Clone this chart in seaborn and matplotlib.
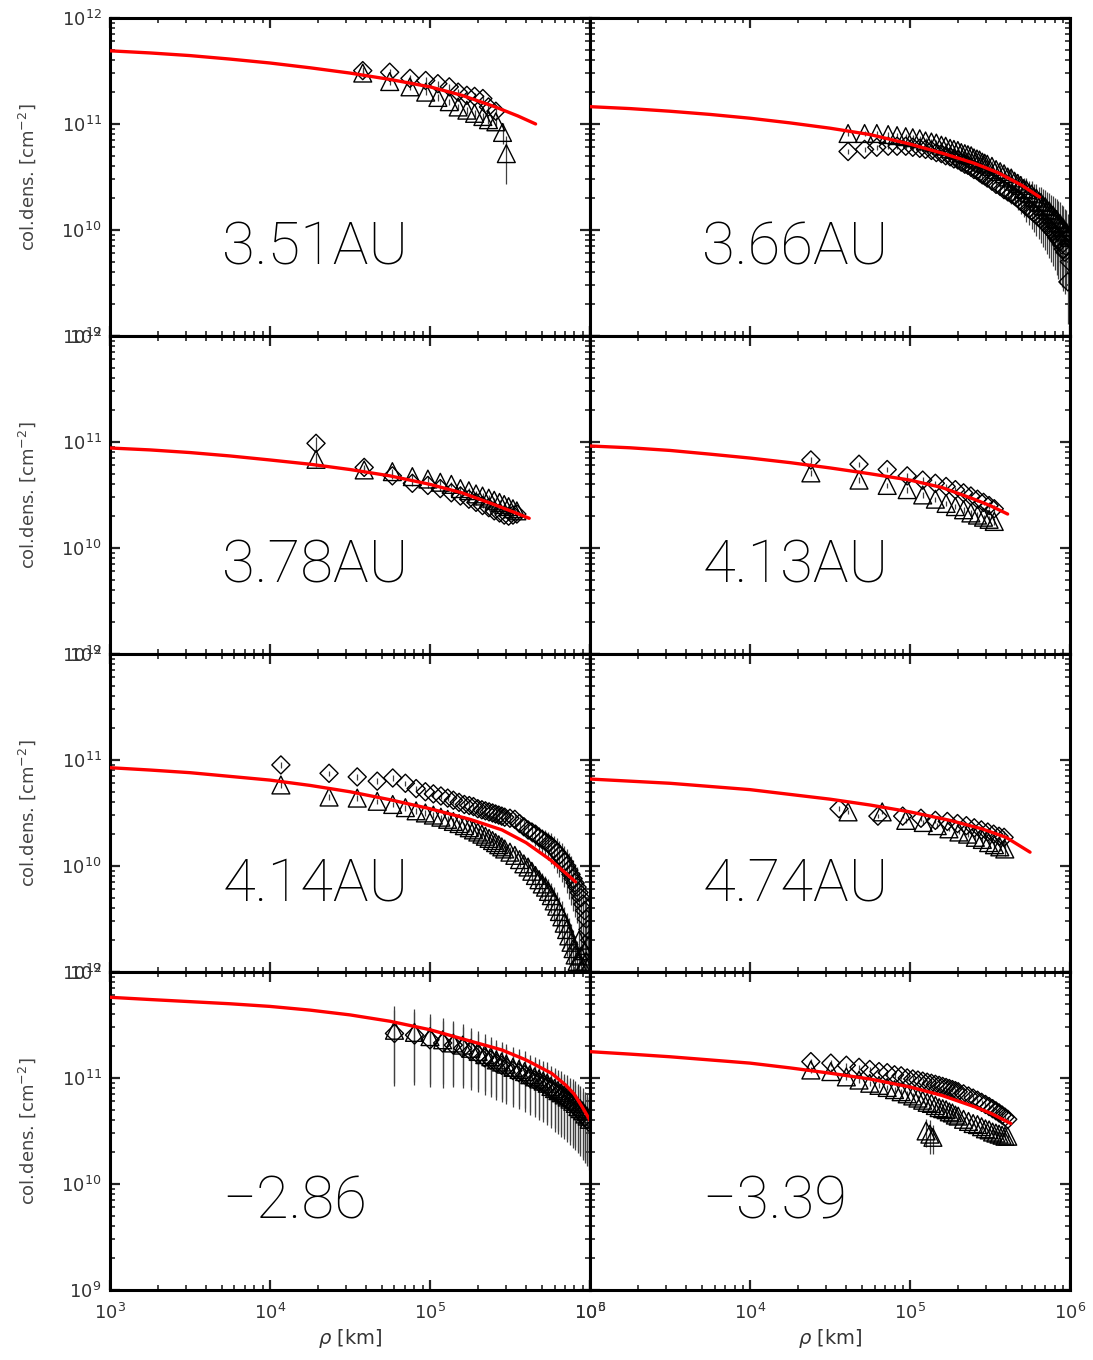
import numpy as np
import pandas as pd
import matplotlib
matplotlib.use("Agg")
import matplotlib.pyplot as plt
import seaborn as sns
from matplotlib.ticker import LogLocator, NullFormatter

sns.set_theme(style="ticks")
plt.rcParams["font.family"] = ["DejaVu Sans"]

# ---------------- data (rho in 1e3 km, log10 column density, relative errors) -------------
labels = ["3.51AU", "3.66AU", "3.78AU", "4.13AU", "4.14AU", "4.74AU", "\u22122.86", "\u22123.39"]

# panel 1 : 3.51AU
p1_rho_dia = [38, 56, 75, 94, 112, 132, 150, 170, 190, 214, 232, 258]
p1_logN_dia = [11.503, 11.488, 11.43, 11.41, 11.38, 11.35, 11.30, 11.27, 11.26, 11.24, 11.16, 11.12]
p1_err_dia = [0.08, 0.07, 0.07, 0.07, 0.07, 0.07, 0.07, 0.07, 0.08, 0.08, 0.09, 0.10]
p1_rho_tri = [38, 56, 75, 94, 112, 132, 150, 170, 190, 214, 232, 258, 284, 300]
p1_logN_tri = [11.48, 11.40, 11.35, 11.30, 11.25, 11.21, 11.16, 11.13, 11.10, 11.07, 11.04, 11.02, 10.92, 10.72]
p1_err_tri = [0.08, 0.07, 0.07, 0.07, 0.07, 0.07, 0.07, 0.07, 0.08, 0.08, 0.09, 0.12, 0.22, 0.48]
m1_logrho = [3.0, 3.25, 3.5, 3.75, 4.0, 4.25, 4.5, 4.75, 5.0, 5.2, 5.4, 5.55, 5.66]
m1_logN = [11.69, 11.67, 11.645, 11.612, 11.575, 11.53, 11.48, 11.42, 11.35, 11.27, 11.165, 11.075, 11.0]

# panel 2 : 3.66AU
p2_rho = [41, 52, 62, 73, 83, 94, 104, 115, 125, 136, 146, 157, 167, 178, 188, 199, 209, 220,
          230, 241, 251, 262, 272, 283, 293, 304, 325, 345, 366, 387, 408, 429, 450, 470, 491,
          512, 533, 554, 575, 595, 616, 637, 658, 679, 700, 720, 741, 762, 783, 804, 825, 845,
          866, 887, 908, 929, 950, 970, 991]
p2_logN_tri = [10.91, 10.91, 10.91, 10.90, 10.89, 10.88, 10.87, 10.86, 10.84, 10.83,
               10.82, 10.80, 10.79, 10.77, 10.76, 10.75, 10.73, 10.72, 10.71, 10.70,
               10.68, 10.67, 10.66, 10.64, 10.63, 10.62, 10.60, 10.57, 10.55, 10.53,
               10.50, 10.49, 10.46, 10.44, 10.42, 10.39, 10.38, 10.35, 10.34, 10.31,
               10.30, 10.27, 10.26, 10.23, 10.22, 10.19, 10.18, 10.15, 10.14, 10.11,
               10.10, 10.07, 10.06, 10.03, 10.02, 9.99, 9.98, 9.95, 9.93]
p2_logN_dia = [10.74, 10.76, 10.78, 10.79, 10.79, 10.79, 10.78, 10.77, 10.76, 10.75,
               10.73, 10.72, 10.70, 10.69, 10.67, 10.66, 10.64, 10.62, 10.61, 10.59,
               10.57, 10.56, 10.54, 10.52, 10.51, 10.49, 10.46, 10.43, 10.41, 10.38,
               10.36, 10.34, 10.32, 10.30, 10.27, 10.25, 10.22, 10.20, 10.18, 10.16,
               10.14, 10.12, 10.10, 10.08, 10.06, 10.04, 10.02, 10.00, 9.98, 9.96,
               9.93, 9.91, 9.89, 9.86, 9.82, 9.79, 9.84, 9.51, 9.70]
p2_err = [0.05, 0.05, 0.05, 0.05, 0.05, 0.05, 0.05, 0.06, 0.06, 0.06,
          0.06, 0.06, 0.07, 0.07, 0.07, 0.08, 0.08, 0.08, 0.09, 0.09,
          0.10, 0.10, 0.11, 0.11, 0.12, 0.12, 0.13, 0.14, 0.15, 0.16,
          0.18, 0.19, 0.20, 0.22, 0.24, 0.26, 0.28, 0.30, 0.32, 0.34,
          0.36, 0.38, 0.40, 0.42, 0.44, 0.46, 0.48, 0.50, 0.52, 0.54,
          0.56, 0.58, 0.60, 0.60, 0.60, 0.60, 0.60, 0.60, 0.60]
m2_logrho = [3.0, 3.25, 3.5, 3.75, 4.0, 4.25, 4.5, 4.75, 5.0, 5.2, 5.4, 5.55, 5.7, 5.81]
m2_logN = [11.163, 11.145, 11.12, 11.09, 11.054, 11.01, 10.96, 10.90, 10.81, 10.725, 10.63, 10.54, 10.42, 10.31]

# panel 3 : 3.78AU
p3_rho = [19.4, 38.8, 58.2, 77.6, 97, 116, 136, 155, 175, 194, 213, 233, 252, 272, 291, 310, 330, 349]
p3_logN_tri = [10.836, 10.736, 10.72, 10.673, 10.65, 10.62, 10.60, 10.56, 10.54, 10.51, 10.49,
               10.47, 10.45, 10.43, 10.41, 10.39, 10.37, 10.35]
p3_logN_dia = [10.987, 10.76, 10.68, 10.61, 10.59, 10.56, 10.52, 10.49, 10.46, 10.43, 10.40,
               10.38, 10.35, 10.33, 10.31, 10.30, 10.31, 10.32]
p3_err = [0.15, 0.06, 0.06, 0.06, 0.06, 0.06, 0.06, 0.06, 0.06, 0.06, 0.06, 0.06, 0.06, 0.06,
          0.06, 0.06, 0.06, 0.06]
m3_logrho = [3.0, 3.25, 3.5, 3.75, 4.0, 4.25, 4.5, 4.75, 5.0, 5.2, 5.4, 5.52, 5.62]
m3_logN = [10.943, 10.925, 10.90, 10.868, 10.83, 10.79, 10.74, 10.68, 10.60, 10.52, 10.41, 10.34, 10.28]

# panel 4 : 4.13AU
p4_rho = [24, 48, 72, 96, 120, 144, 168, 192, 216, 240, 264, 288, 312, 336]
p4_logN_dia = [10.83, 10.79, 10.74, 10.68, 10.64, 10.61, 10.58, 10.55, 10.52, 10.49, 10.46, 10.43, 10.40, 10.37]
p4_logN_tri = [10.708, 10.64, 10.59, 10.55, 10.50, 10.46, 10.42, 10.39, 10.36, 10.33, 10.31, 10.29, 10.27, 10.25]
p4_err = [0.07, 0.06, 0.06, 0.06, 0.06, 0.06, 0.06, 0.06, 0.06, 0.06, 0.06, 0.06, 0.07, 0.08]
m4_logrho = [3.0, 3.25, 3.5, 3.75, 4.0, 4.25, 4.5, 4.75, 5.0, 5.2, 5.4, 5.5, 5.61]
m4_logN = [10.962, 10.945, 10.92, 10.885, 10.848, 10.805, 10.755, 10.70, 10.64, 10.57, 10.46, 10.40, 10.32]

# panel 5 : 4.14AU
p5_rho = [11.7, 23.4, 35.1, 46.8, 58.5, 70.2, 81.9, 93.6, 105, 117,
          129, 140, 152, 164, 176, 187, 199, 211, 222, 234,
          246, 257, 269, 281, 293,
          316, 339, 363, 386, 410, 433, 456, 480, 503, 527,
          550, 573, 597, 620, 644, 667, 690, 714, 737, 761,
          784, 807, 831, 854, 878, 901, 924, 948, 971, 995]
p5_logN_dia = [10.953, 10.874, 10.84, 10.80, 10.83, 10.78, 10.73, 10.70, 10.68, 10.66,
               10.64, 10.62, 10.60, 10.58, 10.57, 10.56, 10.54, 10.53, 10.52, 10.51,
               10.50, 10.49, 10.48, 10.47, 10.46,
               10.45, 10.44, 10.40, 10.37, 10.34, 10.32, 10.30, 10.27, 10.25, 10.23,
               10.21, 10.19, 10.16, 10.13, 10.10, 10.07, 10.04, 10.00, 9.96, 9.92,
               9.88, 9.84, 9.80, 9.75, 9.70, 9.64, 9.58, 9.50, 9.40, 9.30]
p5_logN_tri = [10.764, 10.65, 10.64, 10.61, 10.58, 10.55, 10.52, 10.50, 10.48, 10.46,
               10.44, 10.42, 10.40, 10.38, 10.36, 10.34, 10.32, 10.30, 10.28, 10.26,
               10.24, 10.22, 10.20, 10.18, 10.16,
               10.13, 10.10, 10.06, 10.02, 9.99, 9.95, 9.91, 9.87, 9.83, 9.80,
               9.76, 9.72, 9.67, 9.62, 9.57, 9.52, 9.46, 9.40, 9.34, 9.28,
               9.22, 9.16, 9.10, 9.30, 9.15, 9.05, 9.20, 9.10, 9.25, 9.08]
p5_err = [0.06, 0.06, 0.06, 0.06, 0.06, 0.06, 0.06, 0.06, 0.06, 0.06,
          0.07, 0.07, 0.07, 0.07, 0.08, 0.08, 0.08, 0.09, 0.09, 0.10,
          0.10, 0.11, 0.11, 0.12, 0.12,
          0.13, 0.14, 0.15, 0.16, 0.18, 0.20, 0.22, 0.24, 0.26, 0.28,
          0.30, 0.32, 0.34, 0.36, 0.38, 0.40, 0.42, 0.44, 0.46, 0.48,
          0.50, 0.52, 0.54, 0.56, 0.58, 0.60, 0.60, 0.60, 0.60, 0.60]
m5_logrho = [3.0, 3.25, 3.5, 3.75, 4.0, 4.25, 4.5, 4.75, 5.0, 5.25, 5.45, 5.6, 5.75, 5.85, 5.91]
m5_logN = [10.927, 10.905, 10.88, 10.845, 10.81, 10.76, 10.70, 10.625, 10.54, 10.44, 10.34, 10.22, 10.06, 9.93, 9.85]

# panel 6 : 4.74AU
p6_rho_dia = [36, 63, 90, 117, 144, 171, 198, 225, 252, 279, 306, 333, 360, 387]
p6_logN_dia = [10.54, 10.47, 10.47, 10.45, 10.43, 10.42, 10.40, 10.38, 10.36, 10.34, 10.32, 10.30, 10.28, 10.27]
p6_rho_tri = [41, 67, 94, 121, 148, 175, 202, 229, 256, 283, 310, 337, 364, 391]
p6_logN_tri = [10.51, 10.51, 10.43, 10.41, 10.38, 10.35, 10.32, 10.30, 10.27, 10.25, 10.22, 10.20, 10.18, 10.16]
p6_err = [0.05, 0.05, 0.05, 0.05, 0.05, 0.05, 0.05, 0.05, 0.05, 0.06, 0.06, 0.07, 0.08, 0.15]
m6_logrho = [3.0, 3.25, 3.5, 3.75, 4.0, 4.25, 4.5, 4.75, 5.0, 5.25, 5.45, 5.6, 5.75]
m6_logN = [10.82, 10.80, 10.78, 10.75, 10.72, 10.675, 10.63, 10.575, 10.51, 10.43, 10.35, 10.27, 10.13]

# panel 7 : -2.86
p7_rho = [60, 80, 100, 120, 140, 160, 180, 200, 220, 240, 260, 280, 300, 330, 360, 390, 420, 450,
          480, 510, 540, 570, 600, 630, 660, 690, 720, 750, 780, 810, 840, 870, 900, 930, 960, 990]
p7_logN_dia = [11.42, 11.405, 11.36, 11.33, 11.31, 11.28, 11.25, 11.22, 11.19, 11.17, 11.14, 11.12,
               11.10, 11.07, 11.05, 11.03, 11.00, 10.98, 10.96, 10.94, 10.92, 10.89, 10.87, 10.85,
               10.83, 10.81, 10.79, 10.77, 10.75, 10.73, 10.71, 10.68, 10.66, 10.63, 10.61, 10.58]
p7_logN_tri = [11.45, 11.43, 11.39, 11.36, 11.33, 11.31, 11.28, 11.25, 11.22, 11.20, 11.17, 11.15,
               11.13, 11.10, 11.08, 11.06, 11.03, 11.01, 10.99, 10.97, 10.95, 10.92, 10.90, 10.88,
               10.86, 10.84, 10.82, 10.80, 10.78, 10.76, 10.73, 10.71, 10.69, 10.66, 10.64, 10.61]
p7_err = [0.68, 0.66, 0.64, 0.62, 0.60, 0.58, 0.57, 0.56, 0.55, 0.55, 0.55, 0.55, 0.55, 0.55,
          0.55, 0.55, 0.55, 0.55, 0.56, 0.56, 0.57, 0.57, 0.58, 0.58, 0.59, 0.59, 0.60, 0.60,
          0.61, 0.61, 0.62, 0.62, 0.63, 0.63, 0.64, 0.64]
m7_logrho = [3.0, 3.25, 3.5, 3.75, 4.0, 4.25, 4.5, 4.75, 5.0, 5.2, 5.45, 5.6, 5.76, 5.85, 5.9, 5.95, 6.0]
m7_logN = [11.761, 11.74, 11.72, 11.70, 11.675, 11.64, 11.595, 11.535, 11.455, 11.37, 11.264, 11.17,
           11.044, 10.93, 10.85, 10.73, 10.60]

# panel 8 : -3.39
p8_rho = [24, 32, 40, 48, 56, 64, 72, 80, 88, 96, 104, 112, 120, 128, 136, 144, 152, 160, 168,
          176, 184, 192, 200, 216, 232, 248, 264, 280, 296, 312, 328, 344, 360, 376, 392, 408]
p8_logN_dia = [11.154, 11.14, 11.12, 11.10, 11.08, 11.06, 11.05, 11.03, 11.02, 11.00, 10.99, 10.98,
               10.97, 10.96, 10.95, 10.94, 10.93, 10.92, 10.91, 10.90, 10.89, 10.88, 10.87, 10.85,
               10.83, 10.81, 10.79, 10.77, 10.75, 10.73, 10.71, 10.69, 10.67, 10.65, 10.63, 10.61]
p8_logN_tri = [11.075, 11.06, 11.01, 10.98, 10.95, 10.93, 10.91, 10.89, 10.87, 10.85, 10.83, 10.81,
               10.79, 10.77, 10.76, 10.74, 10.72, 10.71, 10.70, 10.68, 10.67, 10.65, 10.64, 10.61,
               10.59, 10.57, 10.56, 10.54, 10.52, 10.51, 10.49, 10.48, 10.47, 10.46, 10.45, 10.45]
p8_err = [0.06, 0.06, 0.06, 0.06, 0.06, 0.06, 0.06, 0.06, 0.06, 0.06, 0.06, 0.06, 0.06, 0.06,
          0.06, 0.06, 0.06, 0.06, 0.06, 0.06, 0.06, 0.06, 0.06, 0.06, 0.06, 0.06, 0.06, 0.06,
          0.06, 0.06, 0.06, 0.06, 0.06, 0.07, 0.07, 0.08]
p8_rho_out = [126, 133, 139]
p8_logN_out = [10.50, 10.47, 10.44]
p8_err_out = [0.30, 0.35, 0.30]
m8_logrho = [3.0, 3.25, 3.5, 3.75, 4.0, 4.25, 4.5, 4.75, 5.0, 5.2, 5.4, 5.5, 5.63]
m8_logN = [11.248, 11.225, 11.20, 11.17, 11.14, 11.095, 11.045, 10.99, 10.915, 10.835, 10.73, 10.67, 10.57]

panels = [
    dict(dia=(p1_rho_dia, p1_logN_dia, p1_err_dia), tri=(p1_rho_tri, p1_logN_tri, p1_err_tri), model=(m1_logrho, m1_logN)),
    dict(dia=(p2_rho, p2_logN_dia, p2_err), tri=(p2_rho, p2_logN_tri, p2_err), model=(m2_logrho, m2_logN)),
    dict(dia=(p3_rho, p3_logN_dia, p3_err), tri=(p3_rho, p3_logN_tri, p3_err), model=(m3_logrho, m3_logN)),
    dict(dia=(p4_rho, p4_logN_dia, p4_err), tri=(p4_rho, p4_logN_tri, p4_err), model=(m4_logrho, m4_logN)),
    dict(dia=(p5_rho, p5_logN_dia, p5_err), tri=(p5_rho, p5_logN_tri, p5_err), model=(m5_logrho, m5_logN)),
    dict(dia=(p6_rho_dia, p6_logN_dia, p6_err), tri=(p6_rho_tri, p6_logN_tri, p6_err), model=(m6_logrho, m6_logN)),
    dict(dia=(p7_rho, p7_logN_dia, p7_err), tri=(p7_rho, p7_logN_tri, p7_err), model=(m7_logrho, m7_logN)),
    dict(dia=(p8_rho, p8_logN_dia, p8_err), tri=(p8_rho, p8_logN_tri, p8_err), model=(m8_logrho, m8_logN),
         extra_tri=(p8_rho_out, p8_logN_out, p8_err_out)),
]

# ---------------- figure ----------------
fig, axes = plt.subplots(4, 2, figsize=(10.93, 13.6), dpi=100)
fig.subplots_adjust(left=0.1006, right=0.979, top=0.9868, bottom=0.0515, wspace=0, hspace=0)


def draw_points(ax, series, marker, size):
    rho, logN, rel = series
    x = np.asarray(rho, dtype=float) * 1e3
    y = 10.0 ** np.asarray(logN, dtype=float)
    e = np.asarray(rel, dtype=float) * y
    ax.errorbar(x, y, yerr=e, fmt="none", ecolor="0.25", elinewidth=0.9, capsize=0, zorder=2)
    df = pd.DataFrame({"rho": x, "N": y})
    sns.scatterplot(data=df, x="rho", y="N", marker=marker, s=size, facecolor="none",
                    edgecolor="black", linewidth=1.0, ax=ax, zorder=3, legend=False)


for i, (ax, pdat, lab) in enumerate(zip(axes.flat, panels, labels)):
    row, col = divmod(i, 2)
    ax.set_xscale("log")
    ax.set_yscale("log")
    draw_points(ax, pdat["dia"], "D", 85)
    draw_points(ax, pdat["tri"], "^", 165)
    if "extra_tri" in pdat:
        draw_points(ax, pdat["extra_tri"], "^", 165)
    mx = 10.0 ** np.asarray(pdat["model"][0])
    my = 10.0 ** np.asarray(pdat["model"][1])
    sns.lineplot(x=mx, y=my, color="#ff0000", linewidth=2.4, ax=ax, zorder=4,
                 sort=False, estimator=None, legend=False)
    ax.set_xlim(1e3, 1e6)
    ax.set_ylim(1e9, 1e12)
    ax.xaxis.set_major_locator(LogLocator(base=10, numticks=10))
    ax.yaxis.set_major_locator(LogLocator(base=10, numticks=10))
    ax.xaxis.set_minor_locator(LogLocator(base=10, subs=np.arange(2, 10), numticks=20))
    ax.yaxis.set_minor_locator(LogLocator(base=10, subs=np.arange(2, 10), numticks=20))
    ax.xaxis.set_minor_formatter(NullFormatter())
    ax.yaxis.set_minor_formatter(NullFormatter())
    ax.tick_params(which="both", direction="in", top=True, right=True,
                   labelsize=13, labelcolor="#333333")
    ax.tick_params(which="major", length=7, width=1.6, pad=6)
    ax.tick_params(which="minor", length=3.5, width=1.2)
    ax.tick_params(axis="x", which="major", pad=9)
    ax.tick_params(labelleft=(col == 0), labelbottom=(row == 3))
    for sp in ax.spines.values():
        sp.set_linewidth(2.2)
        sp.set_color("black")
    ax.set_xlabel("")
    ax.set_ylabel("")
    if col == 0:
        ax.set_ylabel("col.dens. [cm$^{-2}$]", fontsize=13, color="#444444")
        ax.yaxis.set_label_coords(-0.15, 0.5)
    if row == 3:
        ax.set_xlabel(r"$\rho$ [km]", fontsize=14, color="#333333")
        ax.xaxis.set_label_coords(0.5, -0.115)
    ax.text(0.234, 0.224, lab, transform=ax.transAxes, fontsize=43, ha="left", va="baseline",
            family=["Roboto", "DejaVu Sans"], fontweight="light", color="black")

fig.savefig("out.png", dpi=100, facecolor="white")
